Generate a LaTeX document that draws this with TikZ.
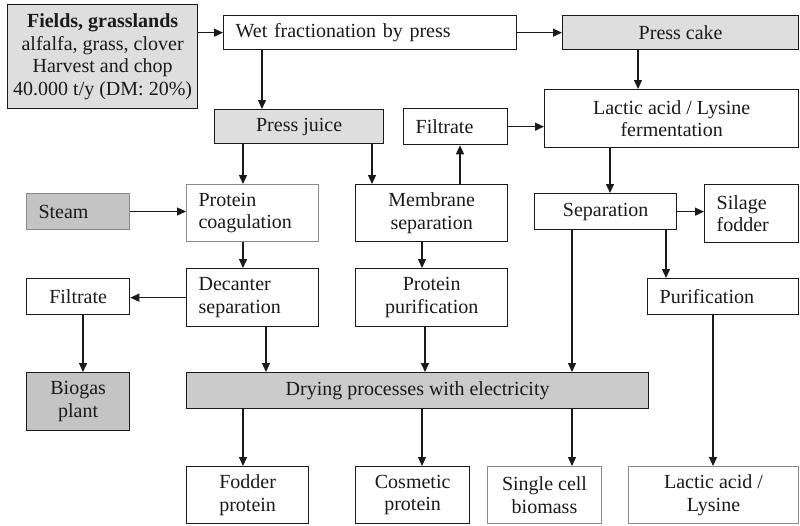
\documentclass[tikz,border=0pt]{standalone}
\usepackage{fontspec}
\setmainfont{LiberationSerif}[Extension=.ttf, UprightFont=*-Regular, BoldFont=*-Bold, ItalicFont=*-Italic, BoldItalicFont=*-BoldItalic]
\usetikzlibrary{arrows.meta}
\definecolor{lightfill}{HTML}{DEDEDE}
\definecolor{darkfill}{HTML}{C4C4C4}
\definecolor{midfill}{HTML}{CBCBCB}
\definecolor{edgegray}{HTML}{8A8A8A}
\definecolor{ink}{HTML}{1A1A1A}
\begin{document}
\begin{tikzpicture}[x=1pt,y=-1pt,
  box/.style={draw=ink, line width=1.3pt, anchor=north west, inner sep=0pt,
    font=\fontsize{20}{22.5}\selectfont, align=center, text=ink},
  lbox/.style={box, align=left, inner xsep=12pt},
  graybox/.style={draw=edgegray, line width=1pt},
  arr/.style={draw=ink, line width=1.3pt, -{Triangle[length=9pt,width=8pt]}}
]
\useasboundingbox (0,0) rectangle (800,525);
\fill[white] (0,0) rectangle (800,525);

% row 1
\node[box, fill=lightfill, minimum width=190, minimum height=104] (fields) at (7,4)
  {\textbf{Fields, grasslands}\\alfalfa, grass, clover\\Harvest and chop\\40.000 t/y (DM: 20\%)};
\node[lbox, text width=269, minimum height=34] (wet) at (223,15) {Wet fractionation by press};
\node[box, fill=lightfill, minimum width=236, minimum height=34] (cake) at (562,15) {Press cake};

% row 2
\node[box, fill=lightfill, minimum width=169, minimum height=34] (juice) at (214,109) {Press juice};
\node[lbox, text width=80, minimum height=36] (filt1) at (403,108) {Filtrate};
\node[box, minimum width=254, minimum height=58] (ferm) at (544,89) {Lactic acid / Lysine\\fermentation};

% row 3
\node[lbox, graybox, fill=darkfill, text width=79, minimum height=36] (steam) at (26,193) {Steam};
\node[lbox, graybox, text width=108, minimum height=57] (coag) at (186,184) {Protein\\coagulation};
\node[box, minimum width=152, minimum height=57] (memb) at (355,184) {Membrane\\separation};
\node[box, minimum width=142, minimum height=36] (sep) at (534,193) {Separation};
\node[lbox, text width=70, minimum height=58] (silage) at (704,184) {Silage\\fodder};

% row 4
\node[box, minimum width=103, minimum height=36] (filt2) at (26,278) {Filtrate};
\node[lbox, text width=108, minimum height=58] (decant) at (186,268) {Decanter\\separation};
\node[box, minimum width=152, minimum height=58] (purif) at (355,268) {Protein\\purification};
\node[lbox, text width=127, minimum height=36] (purif2) at (647,278) {Purification};

% row 5
\node[box, fill=darkfill, minimum width=103, minimum height=58] (biogas) at (26,372) {Biogas\\plant};
\node[box, fill=midfill, minimum width=462, minimum height=36] (drying) at (186,372) {Drying processes with electricity};

% row 6
\node[box, minimum width=122, minimum height=57] (fodder) at (186,466) {Fodder\\protein};
\node[box, minimum width=114, minimum height=57] (cosm) at (355,466) {Cosmetic\\protein};
\node[box, graybox, minimum width=114, minimum height=57] (single) at (487,466) {Single cell\\biomass};
\node[box, graybox, minimum width=170, minimum height=57] (lactic) at (628,466) {Lactic acid /\\Lysine};

% horizontal connectors
\draw[arr] (fields.east |- wet.west) -- (wet.west);
\draw[arr] (wet.east) -- (cake.west);
\draw[arr] (filt1.east) -- (filt1.east -| ferm.west);
\draw[arr] (steam.east) -- (steam.east -| coag.west);
\draw[arr] (sep.east) -- (sep.east -| silage.west);
\draw[arr] (decant.west) -- (decant.west -| filt2.east);

% vertical connectors
\draw[arr] ([xshift=39pt]wet.south west) coordinate (s1) -- (s1 |- juice.north);
\draw[arr] ([xshift=76pt]cake.south west) coordinate (s2) -- (s2 |- ferm.north);
\draw[arr] ([xshift=29pt]juice.south west) coordinate (s3) -- (s3 |- coag.north);
\draw[arr] ([xshift=158pt]juice.south west) coordinate (s4) -- (s4 |- memb.north);
\draw[arr] ([xshift=105pt]memb.north west) coordinate (s5) -- (s5 |- filt1.south);
\draw[arr] ([xshift=66pt]ferm.south west) coordinate (s6) -- (s6 |- sep.north);
\draw[arr] ([xshift=132pt]sep.south west) coordinate (s7) -- (s7 |- purif2.north);
\draw[arr] ([xshift=57pt]coag.south west) coordinate (s8) -- (s8 |- decant.north);
\draw[arr] ([xshift=67pt]memb.south west) coordinate (s9) -- (s9 |- purif.north);
\draw[arr] ([xshift=57pt]filt2.south west) coordinate (s10) -- (s10 |- biogas.north);
\draw[arr] ([xshift=80pt]decant.south west) coordinate (s11) -- (s11 |- drying.north);
\draw[arr] ([xshift=70pt]purif.south west) coordinate (s12) -- (s12 |- drying.north);
\draw[arr] ([xshift=38pt]sep.south west) coordinate (s13) -- (s13 |- drying.north);
\draw[arr] ([xshift=57pt]drying.south west) coordinate (s14) -- (s14 |- fodder.north);
\draw[arr] ([xshift=236pt]drying.south west) coordinate (s15) -- (s15 |- cosm.north);
\draw[arr] ([xshift=386pt]drying.south west) coordinate (s16) -- (s16 |- single.north);
\draw[arr] ([xshift=66pt]purif2.south west) coordinate (s17) -- (s17 |- lactic.north);
\end{tikzpicture}
\end{document}
